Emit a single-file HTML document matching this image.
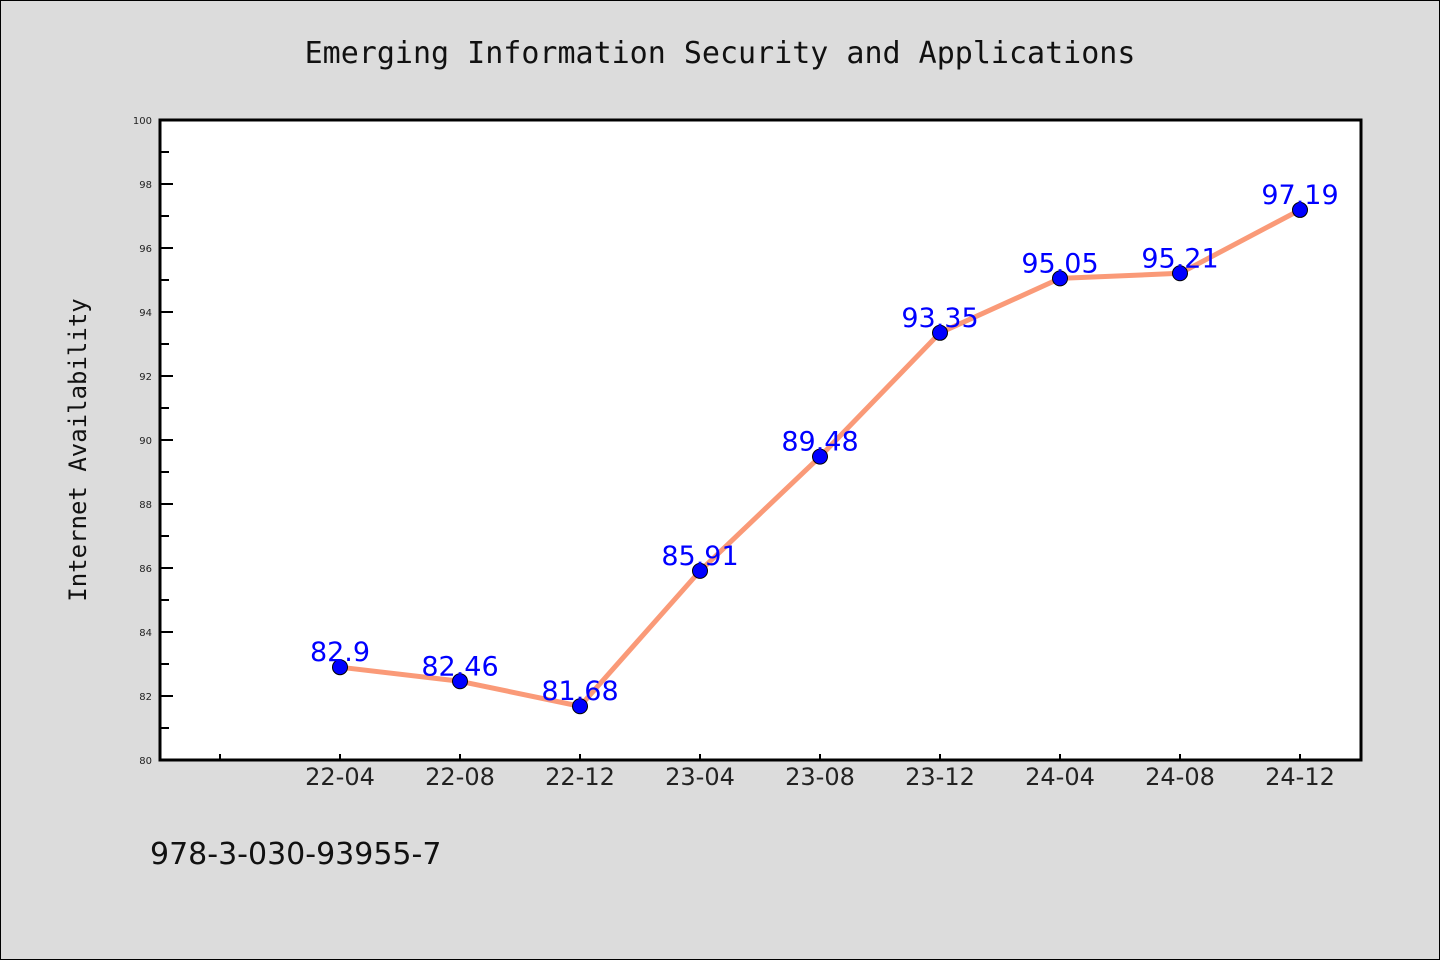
<!DOCTYPE html>
<html><head><meta charset="utf-8"><style>
body{margin:0;background:#dcdcdc;}
svg{display:block;}
</style></head><body>
<svg id="c" width="1440" height="960" xmlns="http://www.w3.org/2000/svg">
<rect x="0.5" y="0.5" width="1439" height="959" fill="#dcdcdc" stroke="#000"/>
<text x="720" y="63" text-anchor="middle" font-family="'WenQuanYi Zen Hei','DejaVu Sans Mono',monospace" font-size="30" fill="#111">Emerging Information Security and Applications</text>
<rect x="160" y="120" width="1201" height="640" fill="#fff"/>
<g id="ticks"></g>
<g id="series"></g>
<rect x="160" y="120" width="1201" height="640" fill="none" stroke="#000" stroke-width="3"/>
<text transform="translate(86,450) rotate(-90)" text-anchor="middle" font-family="'WenQuanYi Zen Hei','DejaVu Sans Mono',monospace" font-size="24" fill="#111">Internet Availability</text>
<text x="150" y="864" font-family="'WenQuanYi Zen Hei','DejaVu Sans',sans-serif" font-size="30" fill="#111">978-3-030-93955-7</text>
</svg>
<script>
const categories=["22-04","22-08","22-12","23-04","23-08","23-12","24-04","24-08","24-12"];
const values=[82.9,82.46,81.68,85.91,89.48,93.35,95.05,95.21,97.19];
const labels=["82.9","82.46","81.68","85.91","89.48","93.35","95.05","95.21","97.19"];
const yTicks=[80,82,84,86,88,90,92,94,96,98,100];
const NS="http://www.w3.org/2000/svg";
const X0=160,W=1200,Y0=760,H=640,YMIN=80,YMAX=100,SLOTS=10;
const x=i=>X0+(i+1.5)*W/SLOTS;
const y=v=>Y0-(v-YMIN)/(YMAX-YMIN)*H;
function mk(t,a,p){const e=document.createElementNS(NS,t);for(const k in a)e.setAttribute(k,a[k]);p.appendChild(e);return e;}
const tg=document.getElementById('ticks');
yTicks.forEach((v,i)=>{
  const l=mk('line',{x1:160,x2:173,y1:y(v),y2:y(v),stroke:'#000','stroke-width':2},tg);
  
  
  const t=mk('text',{x:152,y:y(v)+4,'text-anchor':'end','font-family':'DejaVu Sans,sans-serif','font-size':10,fill:'#222'},tg);
  t.textContent=v;
  
  
  if(i<yTicks.length-1){
    const m=mk('line',{x1:160,x2:169,y1:y(v+1),y2:y(v+1),stroke:'#000','stroke-width':2},tg);
    
    
  }
});
for(let i=-1;i<categories.length;i++){
  const l=mk('line',{x1:x(i),x2:x(i),y1:760,y2:754,stroke:'#000','stroke-width':2},tg);
  
  
  if(i>=0){
    const t=mk('text',{x:x(i),y:785,'text-anchor':'middle','font-family':"'WenQuanYi Zen Hei','DejaVu Sans',sans-serif",'font-size':24,fill:'#222'},tg);
    t.textContent=categories[i];
    
    
  }
}
const sg=document.getElementById('series');
const pl=mk('polyline',{points:values.map((v,i)=>x(i)+','+y(v)).join(' '),fill:'none',stroke:'#fa9a78','stroke-width':5,'stroke-linejoin':'round'},sg);


values.forEach((v,i)=>{
  const c=mk('circle',{cx:x(i),cy:y(v),r:7.5,fill:'#0000ff',stroke:'#000','stroke-width':1},sg);
  
  
  const t=mk('text',{x:x(i),y:y(v)-6,'text-anchor':'middle','font-family':"'WenQuanYi Zen Hei','DejaVu Sans',sans-serif",'font-size':27,fill:'#0000ff'},sg);
  t.textContent=labels[i];
  
  
});
</script>
</body></html>
